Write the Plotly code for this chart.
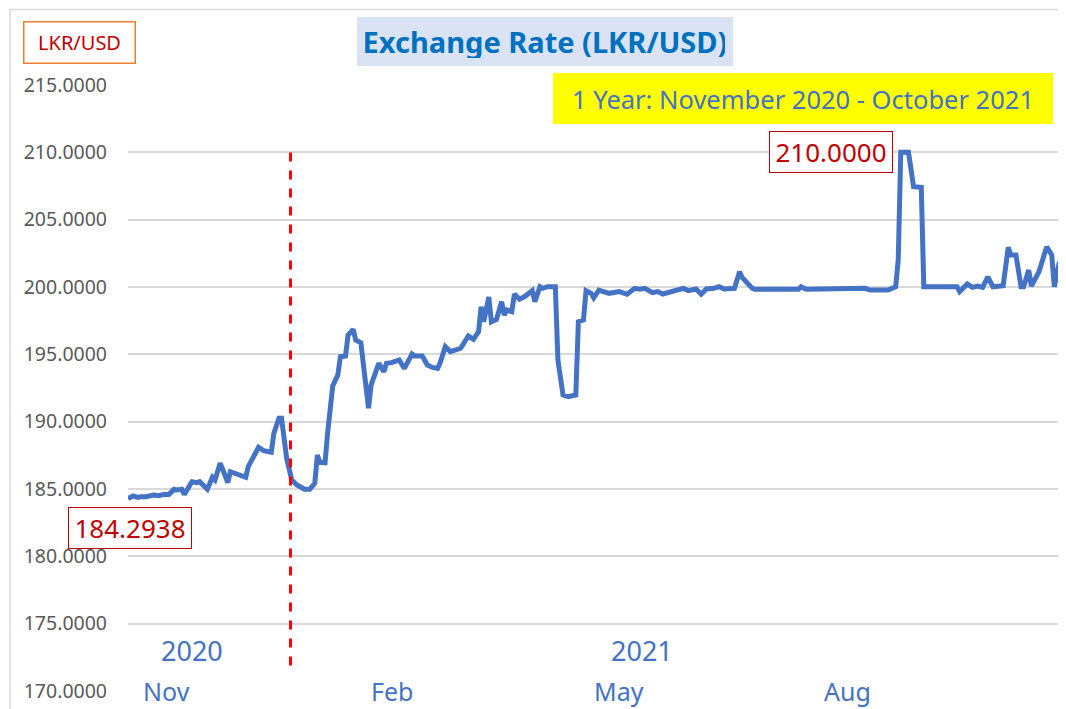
import plotly.graph_objects as go

dates = [
    "2020-11-01", "2020-11-03", "2020-11-05", "2020-11-06", "2020-11-08", "2020-11-11", "2020-11-13",
    "2020-11-15", "2020-11-17", "2020-11-19", "2020-11-20", "2020-11-22", "2020-11-23", "2020-11-25",
    "2020-11-26", "2020-11-28", "2020-11-29",
    "2020-12-02", "2020-12-04", "2020-12-05", "2020-12-07", "2020-12-08", "2020-12-10", "2020-12-11",
    "2020-12-14", "2020-12-17", "2020-12-18", "2020-12-21", "2020-12-22", "2020-12-24", "2020-12-27",
    "2020-12-28", "2020-12-30", "2020-12-31",
    "2021-01-01", "2021-01-02", "2021-01-04", "2021-01-06", "2021-01-09", "2021-01-11", "2021-01-13",
    "2021-01-14", "2021-01-15", "2021-01-17", "2021-01-18", "2021-01-19", "2021-01-20", "2021-01-22",
    "2021-01-23", "2021-01-25", "2021-01-26", "2021-01-28", "2021-01-29", "2021-01-31",
    "2021-02-01", "2021-02-03", "2021-02-04", "2021-02-06", "2021-02-07", "2021-02-09", "2021-02-10",
    "2021-02-12", "2021-02-15", "2021-02-17", "2021-02-20", "2021-02-21", "2021-02-24", "2021-02-26",
    "2021-02-28",
    "2021-03-02", "2021-03-03", "2021-03-05", "2021-03-07", "2021-03-11", "2021-03-12", "2021-03-14",
    "2021-03-16", "2021-03-18", "2021-03-19", "2021-03-20", "2021-03-22", "2021-03-23", "2021-03-25",
    "2021-03-27", "2021-03-28", "2021-03-29", "2021-03-31",
    "2021-04-01", "2021-04-03", "2021-04-05", "2021-04-08", "2021-04-09", "2021-04-11", "2021-04-12",
    "2021-04-14", "2021-04-17", "2021-04-18", "2021-04-20", "2021-04-22", "2021-04-25", "2021-04-26",
    "2021-04-28", "2021-04-29",
    "2021-05-01", "2021-05-02", "2021-05-04", "2021-05-08", "2021-05-12", "2021-05-15", "2021-05-18",
    "2021-05-20", "2021-05-22", "2021-05-25", "2021-05-27", "2021-05-29",
    "2021-06-02", "2021-06-04", "2021-06-06", "2021-06-08", "2021-06-11", "2021-06-13", "2021-06-15",
    "2021-06-18", "2021-06-20", "2021-06-22", "2021-06-26", "2021-06-28", "2021-06-29",
    "2021-07-03", "2021-07-04", "2021-07-21", "2021-07-22", "2021-07-24",
    "2021-08-08", "2021-08-09", "2021-08-16", "2021-08-18", "2021-08-25", "2021-08-28", "2021-08-29",
    "2021-08-30",
    "2021-09-02", "2021-09-04", "2021-09-07", "2021-09-08", "2021-09-21", "2021-09-22", "2021-09-25",
    "2021-09-27", "2021-09-29",
    "2021-10-01", "2021-10-03", "2021-10-05", "2021-10-09", "2021-10-11", "2021-10-12", "2021-10-14",
    "2021-10-16", "2021-10-17", "2021-10-19", "2021-10-20", "2021-10-23", "2021-10-26", "2021-10-28",
    "2021-10-29", "2021-10-31",
]

rates = [
    184.2938, 184.48, 184.38, 184.43, 184.43, 184.55, 184.50,
    184.60, 184.60, 184.98, 184.93, 184.98, 184.60, 185.17,
    185.54, 185.47, 185.54,
    184.98, 185.87, 185.67, 186.91, 186.46, 185.47, 186.28,
    186.04, 185.87, 186.66, 187.90, 188.10, 187.85, 187.73,
    189.13, 190.25, 190.25,
    188.39, 187.28, 185.67, 185.30, 184.98, 184.98, 185.42,
    187.52, 186.98, 186.95, 189.13, 191.11, 192.65, 193.46,
    194.82, 194.87, 196.43, 196.85, 196.06, 195.86,
    194.33, 190.99, 192.72, 193.96, 194.33, 193.71, 194.33,
    194.38, 194.58, 193.96, 195.02, 194.87, 194.87, 194.21,
    194.03,
    193.96, 194.38, 195.57, 195.20, 195.45, 195.81, 196.36,
    196.11, 196.68, 198.54, 197.42, 199.26, 197.42, 197.59,
    198.91, 197.92, 198.29, 198.17,
    199.48, 199.09, 199.29, 199.73, 198.91, 200.02, 199.90,
    200.02, 200.02, 194.58, 191.98, 191.85, 191.98, 197.42,
    197.55, 199.73,
    199.53, 199.20, 199.77, 199.53, 199.66, 199.46, 199.90,
    199.83, 199.90, 199.58, 199.66, 199.48,
    199.73, 199.77, 199.90, 199.73, 199.85, 199.46, 199.85,
    199.90, 200.02, 199.85, 199.90, 201.13, 200.71,
    199.90, 199.83, 199.83, 200.02, 199.83,
    199.83, 199.90, 199.90, 199.77, 199.77, 200.02, 202.00,
    210.00,
    210.00, 207.45, 207.40, 200.02, 200.02, 199.66, 200.22,
    199.97, 200.07,
    199.97, 200.76, 200.02, 200.10, 202.95, 202.38, 202.38,
    200.02, 200.02, 201.26, 200.07, 201.13, 202.98, 202.38,
    200.02, 201.88,
]

y_ticks = [170, 175, 180, 185, 190, 195, 200, 205, 210, 215]
month_labels = ["Nov", "Feb", "May", "Aug"]
month_label_dates = ["2020-11-16", "2021-02-12", "2021-05-12", "2021-08-09"]
year_labels = ["2020", "2021"]
year_label_dates = ["2020-11-26", "2021-05-21"]
first_value_label = "184.2938"
max_value_label = "210.0000"

BLUE = "#4472C4"
RED_TXT = "#C00000"
FONT = "Noto Sans"

fig = go.Figure()
fig.add_trace(go.Scatter(
    x=dates, y=rates, mode="lines",
    line=dict(color=BLUE, width=5),
    hoverinfo="skip", showlegend=False,
))

annotations = []
for lab, d in zip(month_labels, month_label_dates):
    annotations.append(dict(x=d, y=170, xref="x", yref="y", text=lab, showarrow=False,
                            xanchor="center", yanchor="middle",
                            font=dict(family=FONT, size=25, color=BLUE)))
for lab, d in zip(year_labels, year_label_dates):
    annotations.append(dict(x=d, y=173, xref="x", yref="y", text=lab, showarrow=False,
                            xanchor="center", yanchor="middle",
                            font=dict(family=FONT, size=27, color=BLUE)))

# title box
annotations.append(dict(x=0.4465, y=1.0718, xref="paper", yref="paper",
                        text="<b>Exchange Rate (LKR/USD)</b>", showarrow=False,
                        xanchor="center", yanchor="middle",
                        bgcolor="#DAE3F3", borderpad=8, borderwidth=0,
                        width=360, height=33,
                        font=dict(family=FONT, size=29, color="#0070C0")))
# LKR/USD unit box
annotations.append(dict(x=-0.0519, y=1.0701, xref="paper", yref="paper",
                        text="LKR/USD", showarrow=False,
                        xanchor="center", yanchor="middle",
                        bgcolor="white", bordercolor="#ED7D31", borderwidth=1.5,
                        borderpad=6, width=98, height=28,
                        font=dict(family=FONT, size=20, color=RED_TXT)))
# yellow period box
annotations.append(dict(x=0.7227, y=0.9777, xref="paper", yref="paper",
                        text="1 Year: November 2020 - October 2021", showarrow=False,
                        xanchor="center", yanchor="middle",
                        bgcolor="#FFFF00", borderpad=8, borderwidth=0,
                        width=484, height=35,
                        font=dict(family=FONT, size=25.5, color=BLUE)))
# value labels
annotations.append(dict(x=0.7527, y=0.8894, xref="paper", yref="paper",
                        text=max_value_label, showarrow=False,
                        xanchor="center", yanchor="middle",
                        bgcolor="white", bordercolor=RED_TXT, borderwidth=1,
                        borderpad=4, width=114, height=32,
                        font=dict(family=FONT, size=26, color=RED_TXT)))
annotations.append(dict(x=0.00214, y=0.2682, xref="paper", yref="paper",
                        text=first_value_label, showarrow=False,
                        xanchor="center", yanchor="middle",
                        bgcolor="white", bordercolor=RED_TXT, borderwidth=1,
                        borderpad=4, width=114, height=32,
                        font=dict(family=FONT, size=26, color=RED_TXT)))

shapes = [
    # year boundary marker
    dict(type="line", xref="x", yref="y", x0="2021-01-03 12:00", x1="2021-01-03 12:00",
         y0=171.9, y1=210.2, line=dict(color="#FF0000", width=3, dash="dash")),
    # chart border
    dict(type="rect", xref="paper", yref="paper", x0=-0.1263, x1=1.03, y0=-0.08, y1=1.1245,
         line=dict(color="#D9D9D9", width=1.5), layer="below"),
]

# page body has an 8px margin: shift the figure so the plot area lands at
# x 128..1062, y 85..691 of the window
fig.update_layout(
    width=1058, height=701,
    margin=dict(l=120, r=4, t=77, b=18),
    paper_bgcolor="white", plot_bgcolor="white",
    font=dict(family=FONT),
    annotations=annotations,
    shapes=shapes,
    xaxis=dict(range=["2020-11-01", "2021-11-01"], type="date",
               showgrid=False, showline=False, showticklabels=False, zeroline=False,
               fixedrange=True),
    yaxis=dict(range=[170, 215], tickvals=y_ticks, tickformat=".4f",
               showgrid=True, gridcolor="#D9D9D9", gridwidth=1.5,
               zeroline=False, showline=False, ticks="",
               ticklabelstandoff=20,
               tickfont=dict(family=FONT, size=19.5, color="#595959"),
               fixedrange=True),
)

fig.write_html("out.html")
